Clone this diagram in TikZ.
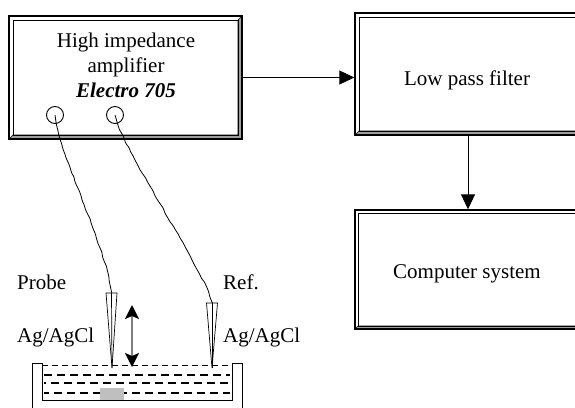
\documentclass[tikz,border=0pt]{standalone}
\usepackage{fontspec}
\setmainfont{Liberation Serif}
\usetikzlibrary{arrows.meta,decorations.pathmorphing}
\tikzset{
    bevel/.store in=\bevelw, bevel=4, % 斜面宽度
    panel/.style={draw, line width=1.4pt, inner sep=0pt, path picture={
        \path (path picture bounding box.south west) coordinate (pp sw)
              (path picture bounding box.south east) coordinate (pp se)
              (path picture bounding box.north east) coordinate (pp ne);
        \filldraw[fill=gray!75, line width=0.6pt] (pp sw) -- (pp se) -- (pp ne)
            -- ([shift={(-\bevelw pt,-\bevelw pt)}]pp ne) -- ([shift={(-\bevelw pt,\bevelw pt)}]pp se)
            -- ([shift={(\bevelw pt,\bevelw pt)}]pp sw) -- cycle;
        \draw[line width=0.8pt] ([shift={(\bevelw pt,\bevelw pt)}]pp sw) rectangle ([shift={(-\bevelw pt,-\bevelw pt)}]pp ne);
    }}, % 带斜面的方框
    txt/.style={font=\fontsize{21}{25}\selectfont, inner sep=0pt}, % 文字样式
    jack/.style={circle, draw, line width=0.9pt, minimum size=17pt, inner sep=0pt}, % 插孔
    wire/.style={line width=0.8pt, rounded corners=1pt, decorate,
        decoration={random steps, segment length=5pt, amplitude=0.6pt}}, % 导线
    flow/.style={line width=0.9pt, -{Triangle[length=15pt, width=14pt]}}, % 信号箭头
    liquid/.style={line width=2.2pt, dash pattern=on 8pt off 5pt} % 液体
}

\begin{document}
\begin{tikzpicture}[x=1pt, y=-1pt]
    \useasboundingbox (0,0) rectangle (575,407);
    \clip (0,0) rectangle (575,407);
    \def\wl{32} \def\wr{242} \def\wt{363} \def\wb{400} \def\wall{10}

    % 方框
    \node[panel, bevel=4, minimum width=233pt, minimum height=123pt] (amp) at (125.5,77.5) {};
    \node[txt, align=center] (amp text) at (126,65) {High impedance\\amplifier\\\textbf{\textit{Electro 705}}};
    \node[panel, bevel=4, minimum width=226pt, minimum height=122pt] (lpf) at (468,74) {};
    \node[txt, anchor=base] (lpf text) at (467,85) {Low pass filter};
    \node[panel, bevel=3, minimum width=226pt, minimum height=119pt] (comp) at (468,269.5) {};
    \node[txt, anchor=base] (comp text) at (467,278) {Computer system};

    \draw[flow] (amp.east) -- (amp.east -| lpf.west);
    \draw[flow] (lpf.south) -- (comp.north);

    % 插孔与电极
    \node[jack] (jack a) at (55,115) {};
    \node[jack] (jack b) at (115,115) {};
    \coordinate (probe top) at (111.5,293); \coordinate (probe tip) at (112,368);
    \coordinate (ref top) at (212,303); \coordinate (ref tip) at (212,368);

    \draw[wire] (jack a.center) .. controls (57,150) and (108,250) .. (probe top);
    \draw[wire] (jack b.center) .. controls (122,150) and (205,270) .. (ref top);

    \foreach \e in {probe, ref} {
        \draw[line width=0.7pt] ([xshift=-5.5pt]\e\space top) -- ([xshift=5.5pt]\e\space top) -- (\e\space tip) -- cycle;
        \draw[line width=0.7pt] (\e\space top) -- (\e\space tip);
    }

    \node[txt, anchor=base west] (probe lbl) at (17,289) {Probe};
    \node[txt, anchor=base west] (probe mat) at (17,342) {Ag/AgCl};
    \node[txt, anchor=base west] (ref lbl) at (223,289) {Ref.};
    \node[txt, anchor=base west] (ref mat) at (223,342) {Ag/AgCl};

    \coordinate (move up) at (132,305); \coordinate (move down) at (132,367);
    \draw[gray, line width=1.6pt, {Stealth[length=14pt, width=14pt, inset=3pt, black]}-{Stealth[length=14pt, width=14pt, inset=3pt, black]}] (move up) -- (move down);

    % 液槽
    \draw[line width=0.8pt, dash pattern=on 6pt off 4pt] (\wl+\wall,365) -- (\wr-\wall,365);
    \foreach \y/\ph in {375/0, 383/6, 393/3} {\draw[liquid, dash phase=\ph pt] (\wl+\wall+2,\y) -- (\wr-\wall-2,\y);}
    \fill[gray!50] (100,388) rectangle (124,\wb);
    \draw[line width=0.9pt] (\wl,410) -- (\wl,\wt) -- (\wl+\wall,\wt) -- (\wl+\wall,\wb) -- (\wr-\wall,\wb) -- (\wr-\wall,\wt) -- (\wr,\wt) -- (\wr,410);
\end{tikzpicture}
\end{document}
